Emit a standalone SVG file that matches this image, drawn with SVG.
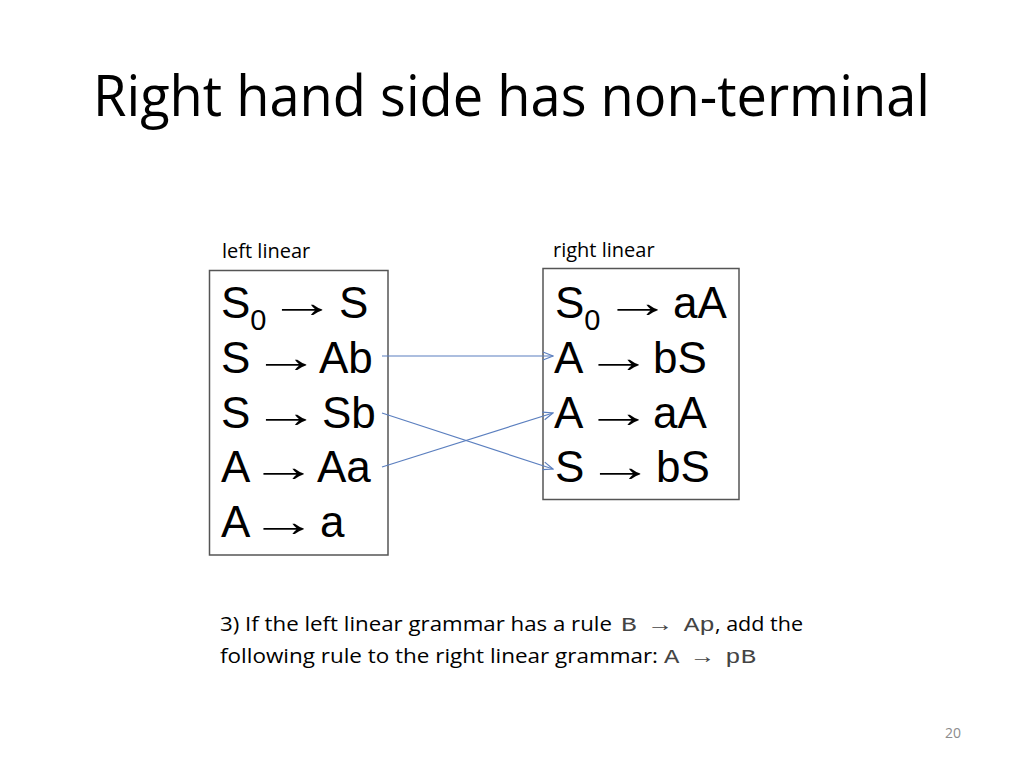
<svg xmlns="http://www.w3.org/2000/svg" width="1024" height="768" viewBox="0 0 1024 768">
<style>
.title{font-family:"Open Sans","Liberation Sans",sans-serif;font-size:56px;fill:#000}
.lbl{font-family:"Open Sans","Liberation Sans",sans-serif;font-size:20px;fill:#000}
.rule{font-family:"Liberation Sans",Arial,sans-serif;font-size:44px;fill:#000}
.sub{font-size:29px}
.box{fill:#fff;stroke:#555;stroke-width:1.5}
.conn{stroke:#5b7fbf;stroke-width:1.2;fill:none;marker-end:url(#arr)}
.body{font-family:"Open Sans","Liberation Sans",sans-serif;font-size:20px;fill:#000}
.mono{font-family:"Liberation Mono","Courier New",monospace;font-size:20px;fill:#444}
.pg{font-family:"Open Sans","Liberation Sans",sans-serif;font-size:14px;fill:#8c8c8c}
</style>
<defs>
<marker id="arr" viewBox="0 0 12 10" refX="11" refY="5" markerWidth="12" markerHeight="10" markerUnits="userSpaceOnUse" orient="auto">
<path d="M1,1 L11,5 L1,9" fill="none" stroke="#5b7fbf" stroke-width="1.2"/>
</marker>
</defs>
<rect width="1024" height="768" fill="#fff"/>
<text class="title" x="93" y="116" textLength="837" lengthAdjust="spacingAndGlyphs">Right hand side has non-terminal</text>
<text class="lbl" x="222" y="258">left linear</text>
<text class="lbl" x="553" y="257">right linear</text>
<g id="left-grammar">
<rect class="box" x="209.5" y="270.5" width="178.5" height="284.5"/>
<text class="rule" x="221" y="318">S<tspan class="sub" dy="12">0</tspan></text>
<text class="rule" transform="translate(268,317) scale(1.55,1)">→</text>
<text class="rule" x="339" y="318">S</text>
<text class="rule" x="221" y="373">S</text>
<text class="rule" transform="translate(252,372) scale(1.55,1)">→</text>
<text class="rule" x="319" y="373">Ab</text>
<text class="rule" x="221" y="428">S</text>
<text class="rule" transform="translate(252,427) scale(1.55,1)">→</text>
<text class="rule" x="322" y="428">Sb</text>
<text class="rule" x="221" y="482">A</text>
<text class="rule" transform="translate(249.5,481) scale(1.55,1)">→</text>
<text class="rule" x="317" y="482">Aa</text>
<text class="rule" x="221" y="537">A</text>
<text class="rule" transform="translate(249.5,536) scale(1.55,1)">→</text>
<text class="rule" x="320" y="537">a</text>
</g>
<g id="right-grammar">
<rect class="box" x="543" y="268.5" width="196" height="231"/>
<text class="rule" x="555" y="318">S<tspan class="sub" dy="12">0</tspan></text>
<text class="rule" transform="translate(603.5,317) scale(1.55,1)">→</text>
<text class="rule" x="673" y="318">aA</text>
<text class="rule" x="554" y="373">A</text>
<text class="rule" transform="translate(584.5,372) scale(1.55,1)">→</text>
<text class="rule" x="653" y="373">bS</text>
<text class="rule" x="554" y="428">A</text>
<text class="rule" transform="translate(584.5,427) scale(1.55,1)">→</text>
<text class="rule" x="653" y="428">aA</text>
<text class="rule" x="555" y="482">S</text>
<text class="rule" transform="translate(586,481) scale(1.55,1)">→</text>
<text class="rule" x="656" y="482">bS</text>
</g>
<g id="connectors">
<line class="conn" x1="382" y1="356" x2="553" y2="356"/>
<line class="conn" x1="382" y1="413" x2="553" y2="469"/>
<line class="conn" x1="382" y1="467" x2="553" y2="413"/>
</g>
<g id="note">
<text class="body" x="220" y="631" textLength="392" lengthAdjust="spacingAndGlyphs">3) If the left linear grammar has a rule</text>
<text class="mono" x="621" y="631" textLength="94" lengthAdjust="spacingAndGlyphs">B → Ap</text>
<text class="body" x="715" y="631" textLength="88" lengthAdjust="spacingAndGlyphs">, add the</text>
<text class="body" x="220" y="663" textLength="438" lengthAdjust="spacingAndGlyphs">following rule to the right linear grammar:</text>
<text class="mono" x="664" y="663" textLength="92" lengthAdjust="spacingAndGlyphs">A → pB</text>
</g>
<text class="pg" x="945" y="738">20</text>
</svg>
